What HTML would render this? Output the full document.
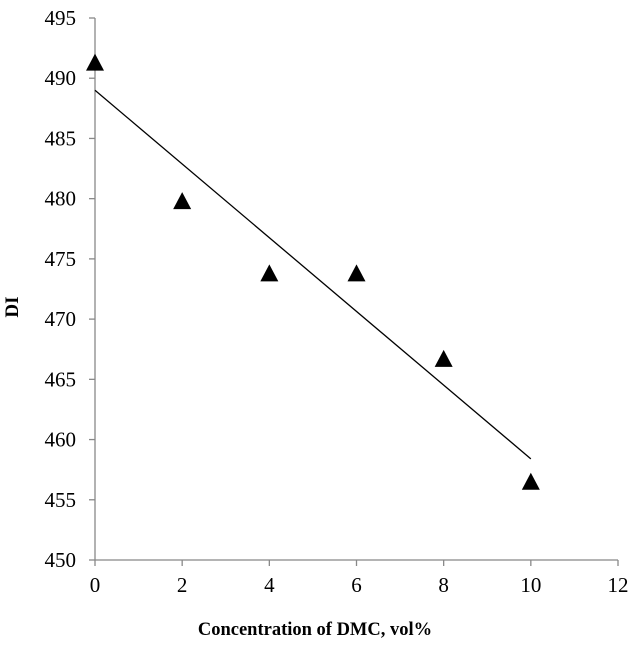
<!DOCTYPE html>
<html><head><meta charset="utf-8"><style>
body{margin:0;background:#fff}
text{font-family:"Liberation Serif",serif;fill:#000}
</style></head><body>
<svg width="629" height="641" id="chart">
<g id="axes"></g><g id="marks"></g>
<text x="315" y="635" font-size="18.5" font-weight="bold" text-anchor="middle">Concentration of DMC, vol%</text>
<text transform="translate(18,307) rotate(-90)" font-size="19" font-weight="bold" text-anchor="middle">DI</text>
</svg>
<script>
const xVals=[0,2,4,6,8,10];
const yVals=[491.3,479.8,473.8,473.8,466.7,456.5];
const xTicks=[0,2,4,6,8,10,12];
const yTicks=[450,455,460,465,470,475,480,485,490,495];
const trend=[[0,489.0],[10,458.4]];
const NS="http://www.w3.org/2000/svg";
const X0=95,X1=618,Y0=560,Y1=18;
function sx(v){return X0+(v-0)/(12-0)*(X1-X0);}
function sy(v){return Y0-(v-450)/(495-450)*(Y0-Y1);}
function mk(tag,attrs,parent){const e=document.createElementNS(NS,tag);for(const k in attrs)e.setAttribute(k,attrs[k]);parent.appendChild(e);return e;}
const ax=document.getElementById('axes'),mg=document.getElementById('marks');
let l=mk('line',{x1:X0,y1:Y1,x2:X0,y2:Y0,stroke:'#888','stroke-width':1.3},ax);


l=mk('line',{x1:X0,y1:Y0,x2:X1,y2:Y0,stroke:'#888','stroke-width':1.3},ax);


yTicks.forEach(v=>{
  const y=sy(v);
  const t=mk('line',{x1:X0-6,y1:y,x2:X0,y2:y,stroke:'#888','stroke-width':1.3},ax);
  
  
  const tx=mk('text',{x:X0-19,y:y+7,'font-size':21,'text-anchor':'end'},ax);
  tx.textContent=v;
  
  
});
xTicks.forEach(v=>{
  const x=sx(v);
  const t=mk('line',{x1:x,y1:Y0,x2:x,y2:Y0+6,stroke:'#888','stroke-width':1.3},ax);
  
  
  const tx=mk('text',{x:x,y:Y0+32,'font-size':21,'text-anchor':'middle'},ax);
  tx.textContent=v;
  
  
});
const tl=mk('line',{x1:sx(trend[0][0]),y1:sy(trend[0][1]),x2:sx(trend[1][0]),y2:sy(trend[1][1]),stroke:'#000','stroke-width':1.3},mg);


xVals.forEach((v,i)=>{
  const x=sx(v),y=sy(yVals[i]);
  const p=mk('polygon',{points:`${x},${y-9} ${x-9},${y+8} ${x+9},${y+8}`,fill:'#000'},mg);
  
  
});
</script>
</body></html>
